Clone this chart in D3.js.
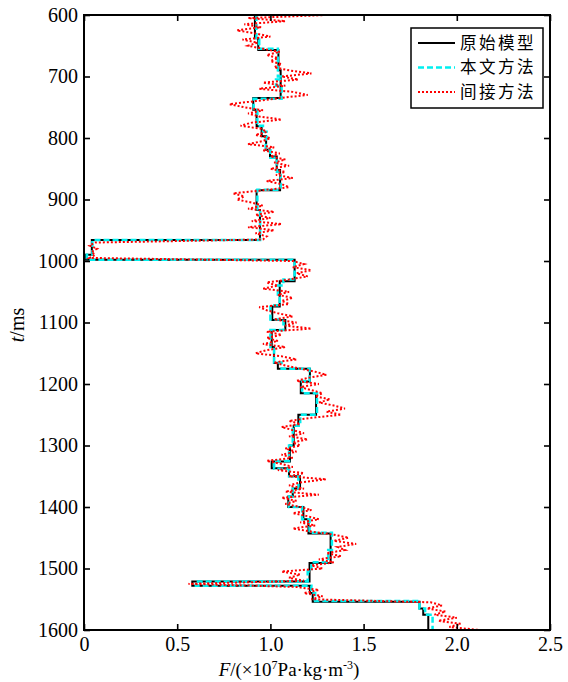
<!DOCTYPE html>
<html><head><meta charset="utf-8">
<script src="https://cdn.jsdelivr.net/npm/d3@7/dist/d3.min.js"></script>
<style>body{margin:0;background:#fff}</style>
</head><body>
<svg id="c" width="568" height="682"></svg>
<script>
// ---- data ----
const xTicks = [0, 0.5, 1.0, 1.5, 2.0, 2.5];
const xTickLabels = ["0", "0.5", "1.0", "1.5", "2.0", "2.5"];
const yTicks = [600, 700, 800, 900, 1000, 1100, 1200, 1300, 1400, 1500, 1600];
const legendLabels = ["原始模型", "本文方法", "间接方法"];

// original model (step function: value holds from t[i] to t[i+1])
const blackT = [600, 638, 657, 690, 735, 754, 781, 797, 819, 830, 852, 885, 917, 966, 990, 998,
  1033, 1074, 1096, 1112, 1140, 1166, 1175, 1196, 1215, 1250, 1268, 1300, 1326, 1337, 1350, 1370,
  1383, 1400, 1420, 1443, 1491, 1521, 1528, 1540, 1554, 1565, 1575];
const blackF = [0.917, 0.935, 1.043, 1.055, 0.908, 0.926, 0.953, 0.977, 0.998, 1.034, 1.052, 0.926, 0.944, 0.042, 0.010, 1.130,
  1.050, 1.010, 1.080, 1.007, 1.019, 1.040, 1.212, 1.163, 1.245, 1.150, 1.125, 1.105, 1.007, 1.100, 1.159, 1.120,
  1.096, 1.177, 1.204, 1.323, 1.210, 0.581, 1.212, 1.227, 1.800, 1.820, 1.847];

// this paper's method (step function)
const cyanT = [600, 640, 655, 700, 705, 715, 736, 752, 780, 790, 800, 820, 832, 855, 884, 918, 966, 990, 998,
  1030, 1040, 1060, 1072, 1095, 1112, 1140, 1165, 1175, 1195, 1215, 1250, 1268, 1300, 1325, 1338, 1350, 1370,
  1383, 1400, 1420, 1442, 1470, 1490, 1505, 1521, 1528, 1540, 1553, 1565, 1575];
const cyanF = [0.925, 0.940, 1.040, 1.060, 1.030, 1.060, 0.910, 0.930, 0.960, 0.980, 0.975, 1.000, 1.035, 1.055, 0.930, 0.945, 0.045, 0.015, 1.130,
  1.070, 1.040, 1.050, 1.000, 1.070, 1.000, 1.020, 1.060, 1.210, 1.170, 1.250, 1.160, 1.120, 1.100, 1.020, 1.100, 1.150, 1.120,
  1.100, 1.170, 1.210, 1.330, 1.310, 1.220, 1.200, 0.600, 1.220, 1.240, 1.800, 1.830, 1.870];

// indirect method, sampled every 5 ms from 600 ms
const redStart = 600, redStep = 5;
const redF = [
  1.30,0.88,1.08,0.86,0.95,0.82,0.92,1.00,0.85,0.93,0.88,0.96,1.05,0.98,1.04,1.00,1.06,1.02,1.10,1.22,
  1.06,1.15,0.96,1.08,0.94,1.12,1.20,1.05,0.92,0.78,0.86,0.96,0.88,0.94,1.06,0.90,0.84,0.95,0.98,0.92,
  1.00,0.96,0.88,1.02,0.96,1.05,1.00,1.08,1.02,1.10,1.00,1.08,1.03,1.12,0.98,1.06,1.10,0.96,0.80,0.86,
  0.82,0.90,0.96,0.88,1.02,0.92,1.00,0.90,1.06,0.88,1.02,0.92,0.98,0.96,0.06,0.03,0.07,0.04,0.06,0.03,
  1.12,1.18,1.12,1.22,1.14,1.20,1.10,0.98,1.04,0.96,1.10,1.04,1.12,1.06,1.10,0.94,0.98,1.04,1.12,1.02,
  1.14,1.08,1.22,0.98,1.06,0.98,1.04,0.96,1.08,0.98,0.92,1.06,1.14,1.02,1.08,1.16,1.24,1.30,1.20,1.14,
  1.26,1.16,1.22,1.28,1.24,1.32,1.26,1.34,1.40,1.30,1.38,1.22,1.10,1.16,1.06,1.12,1.18,1.10,1.20,1.12,
  1.16,1.08,1.14,1.06,1.12,0.98,1.06,1.12,1.04,1.18,1.10,1.30,1.16,1.10,1.18,1.08,1.26,1.06,1.14,1.08,
  1.16,1.22,1.12,1.20,1.26,1.16,1.24,1.12,1.22,1.34,1.42,1.34,1.46,1.36,1.40,1.30,1.38,1.26,1.34,1.22,
  1.28,1.06,1.16,1.10,1.18,0.56,1.14,1.26,1.18,1.28,1.22,1.86,1.92,1.84,1.94,1.88,2.00,1.90,2.02,1.96,
  2.12];

// ---- chart ----
const L = 84, R = 550, T = 15, B = 630;
const svg = d3.select("#c");
const x = d3.scaleLinear().domain([0, 2.5]).range([L, R]);
const y = d3.scaleLinear().domain([600, 1600]).range([T, B]);
const serif = "'Liberation Serif','Times New Roman',serif";
const cjk = "'Noto Sans CJK SC','Noto Sans CJK JP',sans-serif";

svg.append("rect").attr("width", 568).attr("height", 682).attr("fill", "#fff");
svg.append("clipPath").attr("id", "clip").append("rect")
  .attr("x", L).attr("y", T).attr("width", R - L).attr("height", B - T);
const g = svg.append("g").attr("clip-path", "url(#clip)");

function stepPts(TT, FF) {
  const p = TT.map((t, i) => [FF[i], t]);
  p.push([FF[FF.length - 1], 1600]);
  return p;
}
const stepLine = d3.line().x(d => x(d[0])).y(d => y(d[1])).curve(d3.curveStepBefore);
const plainLine = d3.line().x(d => x(d[0])).y(d => y(d[1]));

g.append("path").attr("d", stepLine(stepPts(blackT, blackF)))
  .attr("fill", "none").attr("stroke", "#000").attr("stroke-width", 2);
g.append("path").attr("d", stepLine(stepPts(cyanT, cyanF)))
  .attr("fill", "none").attr("stroke", "#00f0f0").attr("stroke-width", 2.5)
  .attr("stroke-dasharray", "6,3");
const redPts = redF.map((v, i) => [v, redStart + i * redStep]);
g.append("path").attr("d", plainLine(redPts))
  .attr("fill", "none").attr("stroke", "#ff0000").attr("stroke-width", 2)
  .attr("stroke-dasharray", "2,2");

// axes
const xAxis = d3.axisBottom(x).tickValues(xTicks).tickFormat((d, i) => xTickLabels[i])
  .tickSizeInner(-6).tickSizeOuter(0).tickPadding(7);
const gx = svg.append("g").attr("transform", `translate(0,${B})`).call(xAxis);
const xTop = d3.axisTop(x).tickValues(xTicks).tickFormat("").tickSizeInner(-6).tickSizeOuter(0);
const gxt = svg.append("g").attr("transform", `translate(0,${T})`).call(xTop);
const yAxis = d3.axisLeft(y).tickValues(yTicks).tickFormat(d3.format("d"))
  .tickSizeInner(-6).tickSizeOuter(0).tickPadding(6);
const gy = svg.append("g").attr("transform", `translate(${L},0)`).call(yAxis);
const yRight = d3.axisRight(y).tickValues(yTicks).tickFormat("").tickSizeInner(-6).tickSizeOuter(0);
const gyr = svg.append("g").attr("transform", `translate(${R},0)`).call(yRight);
[gx, gxt, gy, gyr].forEach(a => {
  a.select(".domain").remove();
  a.selectAll(".tick line").attr("stroke", "#000").attr("stroke-width", 1.6);
  a.selectAll("text").attr("font-family", serif).attr("font-size", 20).attr("fill", "#000");
});
svg.append("rect").attr("x", L).attr("y", T).attr("width", R - L).attr("height", B - T)
  .attr("fill", "none").attr("stroke", "#000").attr("stroke-width", 2);

// axis titles
const xt = svg.append("text").attr("x", 289).attr("y", 676).attr("text-anchor", "middle")
  .attr("font-family", serif).attr("font-size", 19).attr("fill", "#000");
xt.append("tspan").attr("font-style", "italic").text("F");
xt.append("tspan").text("/(×10");
xt.append("tspan").attr("font-size", 12).attr("dy", -7).text("7");
xt.append("tspan").attr("dy", 7).text("Pa·kg·m");
xt.append("tspan").attr("font-size", 12).attr("dy", -7).text("-3");
xt.append("tspan").attr("dy", 7).text(")");

const yt = svg.append("text").attr("transform", "translate(24,325) rotate(-90)")
  .attr("text-anchor", "middle").attr("font-family", serif).attr("font-size", 20).attr("fill", "#000");
yt.append("tspan").attr("font-style", "italic").text("t");
yt.append("tspan").text("/ms");

// legend
const lg = svg.append("g");
lg.append("rect").attr("x", 411).attr("y", 28).attr("width", 132).attr("height", 80)
  .attr("fill", "#fff").attr("stroke", "#000").attr("stroke-width", 1.5);
const legStyles = [
  {c: "#000", w: 2, d: null},
  {c: "#00f0f0", w: 2.5, d: "6,3"},
  {c: "#ff0000", w: 2, d: "2,2"}
];
const legY = [43, 67.5, 92];
legendLabels.forEach((lab, i) => {
  const ln = lg.append("line").attr("x1", 418).attr("x2", 455).attr("y1", legY[i]).attr("y2", legY[i])
    .attr("stroke", legStyles[i].c).attr("stroke-width", legStyles[i].w);
  if (legStyles[i].d) ln.attr("stroke-dasharray", legStyles[i].d);
  lg.append("text").attr("x", 460).attr("y", legY[i]).attr("dy", "0.36em")
    .attr("font-family", cjk).attr("font-size", 16.6).attr("letter-spacing", 2.4)
    .attr("fill", "#000").text(lab);
});
</script>
</body></html>
